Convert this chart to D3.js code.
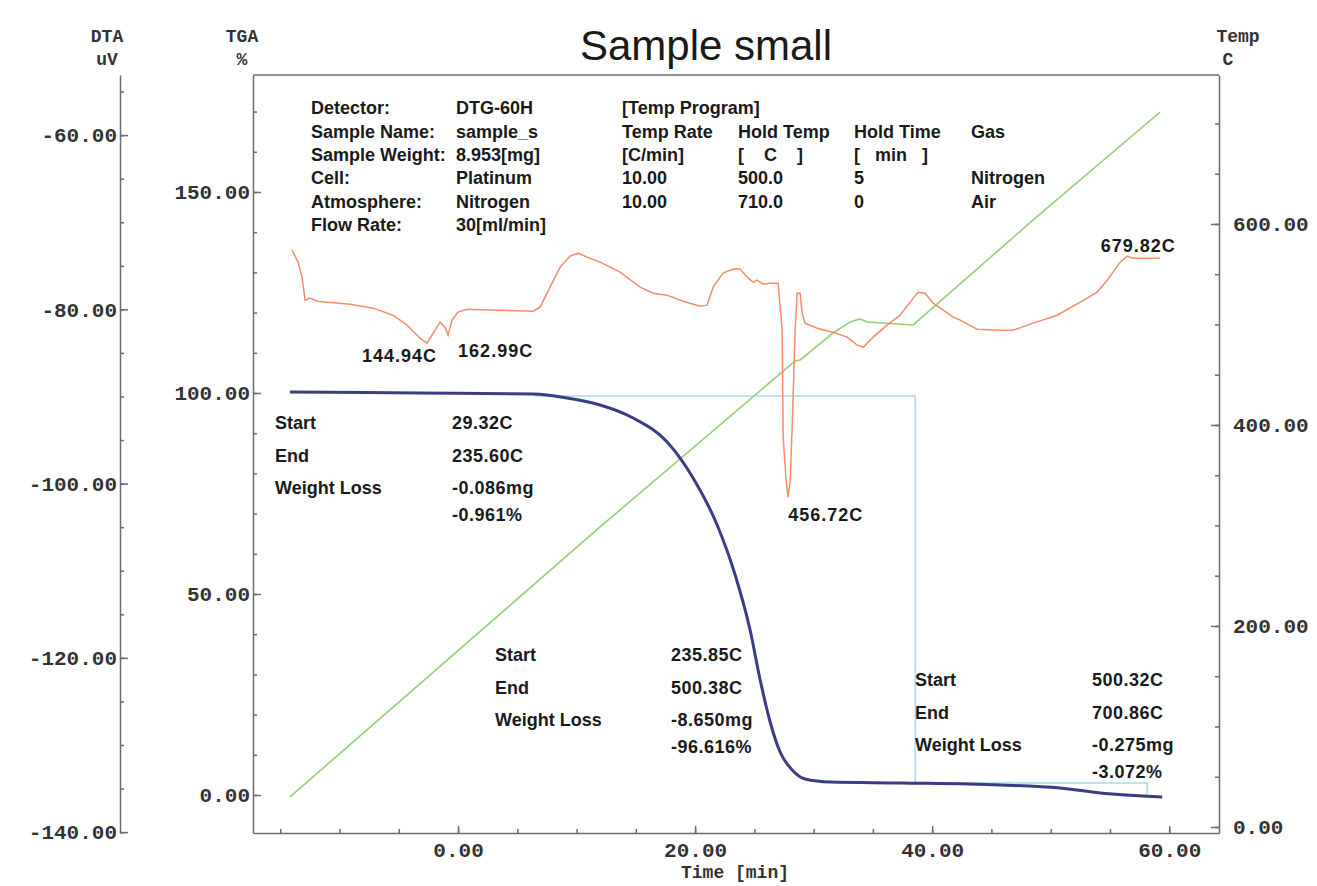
<!DOCTYPE html>
<html lang="en">
<head>
<meta charset="UTF-8">
<title>Sample small</title>
<script src="https://d3js.org/d3.v7.min.js"></script>
<style>
    body { margin: 0; background: #fff; }
    .axis path, .axis line { stroke: #6b6b6b; stroke-width: 1.5; }
    .axis text { font-family: "Liberation Mono", monospace; font-size: 21px; font-weight: bold; fill: #333; }
    .ax-title { font-family: "Liberation Mono", monospace; font-size: 18px; font-weight: bold; fill: #333; text-anchor: middle; }
    .note { font-family: "Liberation Sans", Arial, sans-serif; font-weight: bold; font-size: 18px; fill: #1a1a1a; white-space: pre; }
    .title { font-family: "Liberation Sans", Arial, sans-serif; font-size: 42px; fill: #1a1a1a; text-anchor: middle; }
</style>
</head>
<body>
<svg id="chart"></svg>
<script>
// TGA curve (time in min, weight in %)
const tgaTime  = [-14.18, -3.21, 6.33, 9.20, 11.98, 14.77, 17.64, 19.83, 21.86, 23.38, 24.64, 25.49, 26.33, 27.17, 28.19, 29.28, 31.39, 37.30, 45.74, 50.80, 54.18, 59.41];
const tgaValue = [100.25, 100.00, 99.75, 98.76, 97.01, 93.78, 87.81, 78.86, 67.16, 54.73, 41.04, 28.61, 18.16, 10.70, 6.22, 3.98, 3.23, 2.99, 2.49, 1.74, 0.50, -0.50];

// DTA curve (time in min, uV)
const dtaTime  = [-14.01, -13.50, -13.16, -12.91, -12.49, -11.90, -9.11, -7.17, -5.49, -4.30, -3.21, -2.62, -1.94, -1.52, -1.10, -0.84, -0.51, 0.00, 0.76, 3.29, 6.33, 6.92, 7.76, 8.61, 9.45, 10.13, 10.89, 11.98, 13.67, 15.36, 16.46, 17.64, 18.99, 20.42, 21.01, 21.52, 22.36, 23.21, 23.80, 24.39, 24.89, 25.23, 25.74, 26.33, 27.00, 27.34, 27.43, 27.68, 27.85, 28.02, 28.19, 28.44, 28.61, 28.86, 29.03, 29.28, 30.30, 31.65, 32.83, 33.67, 34.18, 35.02, 36.20, 37.30, 37.89, 38.40, 38.82, 39.41, 40.08, 40.93, 41.77, 42.36, 43.80, 45.74, 46.84, 48.52, 50.55, 52.49, 53.92, 54.77, 55.86, 56.46, 56.96, 59.24];
const dtaValue = [-73.20, -74.58, -76.30, -78.94, -78.71, -79.06, -79.40, -79.86, -80.67, -81.81, -83.31, -83.88, -82.39, -81.47, -82.04, -82.96, -81.24, -80.32, -79.98, -80.09, -80.21, -79.75, -77.45, -75.15, -73.89, -73.55, -74.01, -74.58, -75.73, -77.45, -78.14, -78.37, -79.06, -79.63, -79.52, -77.45, -75.84, -75.38, -75.38, -76.30, -76.88, -76.65, -77.11, -76.99, -76.99, -82.39, -94.67, -99.61, -101.56, -99.61, -93.52, -82.39, -78.14, -78.14, -80.44, -81.58, -82.16, -82.62, -83.19, -84.11, -84.34, -83.19, -81.81, -80.67, -79.63, -78.71, -78.03, -78.14, -79.29, -80.09, -80.90, -81.24, -82.27, -82.39, -82.39, -81.58, -80.67, -79.17, -78.03, -76.65, -74.58, -73.89, -74.12, -74.12];

// temperature program (time in min, C)
const tempTime  = [-14.18, 11.98, 28.44, 28.86, 31.65, 33.08, 33.92, 34.51, 38.40, 48.52, 59.24];
const tempValue = [29.9, 298.5, 463.7, 464.7, 491.5, 502.5, 505.5, 502.5, 499.5, 604.0, 711.4];

// step analysis marker (time, TGA %)
const stepTime  = [6.50, 38.57, 38.57, 58.14, 58.14];
const stepValue = [99.25, 99.25, 2.99, 2.99, -0.75];

// tick labels
const timeTicks = [0, 20, 40, 60];
const tgaTicks = [0, 50, 100, 150];
const dtaTicks = [-60, -80, -100, -120, -140];
const tempTicks = [0, 200, 400, 600];

// text blocks
const infoLabels = ["Detector:", "Sample Name:", "Sample Weight:", "Cell:", "Atmosphere:", "Flow Rate:"];
const infoValues = ["DTG-60H", "sample_s", "8.953[mg]", "Platinum", "Nitrogen", "30[ml/min]"];
const programTitle = "[Temp Program]";
const programRows = [
    ["Temp Rate", "Hold Temp", "Hold Time", "Gas"],
    ["[C/min]", "[    C    ]", "[   min   ]", ""],
    ["10.00", "500.0", "5", "Nitrogen"],
    ["10.00", "710.0", "0", "Air"]
];
const peakLabels = ["144.94C", "162.99C", "456.72C", "679.82C"];
const peakTime = [-2.62, -0.84, 27.85, 56.46];
const peakValue = [-83.88, -82.96, -101.56, -73.89];
const stepLabels = ["Start", "End", "Weight Loss"];
const stepResults = [
    ["29.32C", "235.60C", "-0.086mg", "-0.961%"],
    ["235.85C", "500.38C", "-8.650mg", "-96.616%"],
    ["500.32C", "700.86C", "-0.275mg", "-3.072%"]
];

const width = 1317, height = 886;
const plot = { left: 253, right: 1219, top: 75, bottom: 833 };
const dtaAxisX = 120;

const svg = d3.select("#chart").attr("width", width).attr("height", height);
svg.append("rect").attr("width", width).attr("height", height).attr("fill", "#fff");

const x = d3.scaleLinear().domain([-17.3, 64.2]).range([plot.left, plot.right]);
const yTGA = d3.scaleLinear().domain([-9.45, 179.1]).range([plot.bottom, plot.top]);
const yDTA = d3.scaleLinear().domain([-140.1, -53.1]).range([plot.bottom, plot.top]);
const yTemp = d3.scaleLinear().domain([-6, 748.2]).range([plot.bottom, plot.top]);

const fmt = d => d.toFixed(2);

function drawAxis(axisFn, scale, tx, ty, major, minor, size, pad) {
    const g = svg.append("g").attr("class", "axis").attr("transform", `translate(${tx},${ty})`);
    g.append("g").call(axisFn(scale).tickValues(minor).tickSize(-4).tickSizeOuter(0).tickFormat(""))
        .select(".domain").remove();
    g.append("g").call(axisFn(scale).tickValues(major).tickSize(size).tickSizeOuter(0).tickPadding(pad).tickFormat(fmt));
}

drawAxis(d3.axisLeft, yDTA, dtaAxisX, 0, dtaTicks, d3.range(-55, -141, -5), -8, 3);
drawAxis(d3.axisLeft, yTGA, plot.left, 0, tgaTicks, d3.range(0, 171, 10), -8, 3);
drawAxis(d3.axisRight, yTemp, plot.right, 0, tempTicks, d3.range(0, 701, 50), -8, 14);
drawAxis(d3.axisBottom, x, 0, plot.bottom, timeTicks, d3.range(-15, 61, 5), -7, 9);

// top border
svg.append("line")
    .attr("x1", plot.left).attr("x2", plot.right)
    .attr("y1", plot.top).attr("y2", plot.top)
    .attr("stroke", "#6b6b6b").attr("stroke-width", 1.5);

// titles
svg.append("text").attr("class", "title").attr("x", 706).attr("y", 60).text("Sample small");
svg.append("text").attr("class", "ax-title").attr("x", 107).attr("y", 42).text("DTA");
svg.append("text").attr("class", "ax-title").attr("x", 107).attr("y", 65).text("uV");
svg.append("text").attr("class", "ax-title").attr("x", 242).attr("y", 42).text("TGA");
svg.append("text").attr("class", "ax-title").attr("x", 242).attr("y", 65).text("%");
svg.append("text").attr("class", "ax-title").attr("x", 1238).attr("y", 42).text("Temp");
svg.append("text").attr("class", "ax-title").attr("x", 1228).attr("y", 65).text("C");
svg.append("text").attr("class", "ax-title").attr("x", 735).attr("y", 878).text("Time [min]");

// curves
const zip = (a, b) => a.map((v, i) => [v, b[i]]);

svg.append("path")
    .datum(zip(stepTime, stepValue))
    .attr("fill", "none").attr("stroke", "#a9dcef").attr("stroke-width", 1.5)
    .attr("d", d3.line().x(d => x(d[0])).y(d => yTGA(d[1])));

svg.append("path")
    .datum(zip(tempTime, tempValue))
    .attr("fill", "none").attr("stroke", "#93cf7c").attr("stroke-width", 1.6)
    .attr("d", d3.line().x(d => x(d[0])).y(d => yTemp(d[1])));

svg.append("path")
    .datum(zip(dtaTime, dtaValue))
    .attr("fill", "none").attr("stroke", "#f78b6c").attr("stroke-width", 1.5)
    .attr("d", d3.line().x(d => x(d[0])).y(d => yDTA(d[1])));

svg.append("path")
    .datum(zip(tgaTime, tgaValue))
    .attr("fill", "none").attr("stroke", "#3a3d86").attr("stroke-width", 3)
    .attr("d", d3.line().curve(d3.curveMonotoneX).x(d => x(d[0])).y(d => yTGA(d[1])));

// info block
const rowY = [114, 138, 161, 184, 208, 231];
infoLabels.forEach((t, i) => {
    svg.append("text").attr("class", "note").attr("x", 311).attr("y", rowY[i]).text(t);
    svg.append("text").attr("class", "note").attr("x", 456).attr("y", rowY[i]).text(infoValues[i]);
});
svg.append("text").attr("class", "note").attr("x", 622).attr("y", rowY[0]).text(programTitle);
const colX = [622, 738, 854, 971];
programRows.forEach((row, r) => {
    row.forEach((t, c) => {
        svg.append("text").attr("class", "note").attr("x", colX[c]).attr("y", rowY[r + 1]).text(t);
    });
});

// peak labels
const peakOffset = [[10, 19, "end"], [10, 22, "start"], [0, 24, "start"], [11, -4, "middle"]];
peakLabels.forEach((t, i) => {
    svg.append("text").attr("class", "note")
        .attr("x", x(peakTime[i]) + peakOffset[i][0])
        .attr("y", yDTA(peakValue[i]) + peakOffset[i][1])
        .attr("text-anchor", peakOffset[i][2])
        .style("letter-spacing", "1px")
        .text(t);
});

// step analysis results
const blockPos = [[275, 452, 429], [495, 671, 661], [915, 1092, 686]];
const blockRows = [0, 33, 65, 92];
stepResults.forEach((res, b) => {
    const [lx, vx, y0] = blockPos[b];
    stepLabels.forEach((t, i) => {
        svg.append("text").attr("class", "note").attr("x", lx).attr("y", y0 + blockRows[i]).text(t);
    });
    res.forEach((t, i) => {
        svg.append("text").attr("class", "note").attr("x", vx).attr("y", y0 + blockRows[i])
            .style("letter-spacing", "0.5px").text(t);
    });
});
</script>
</body>
</html>
